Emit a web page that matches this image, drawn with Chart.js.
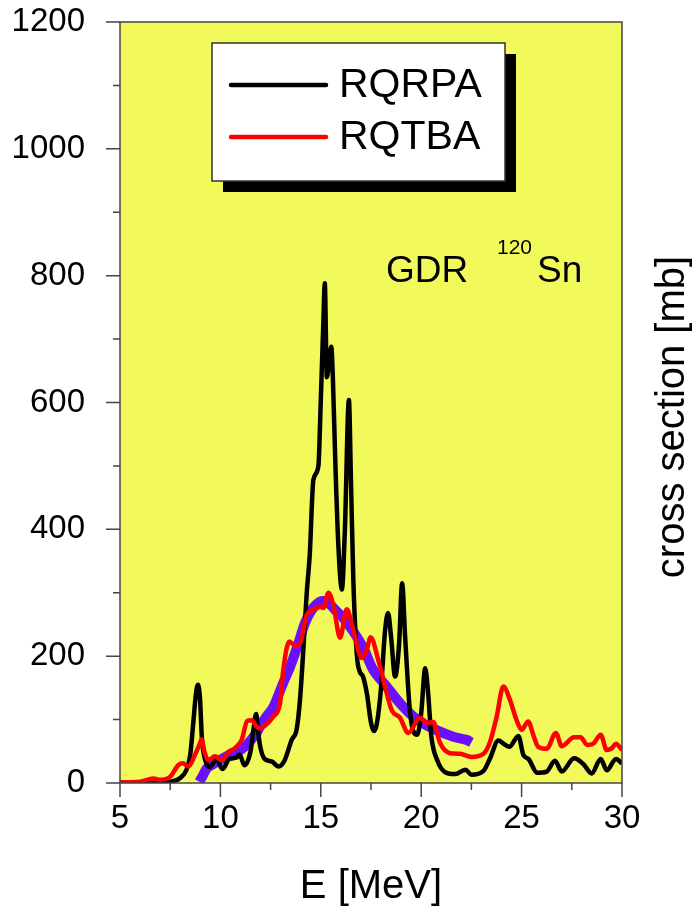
<!DOCTYPE html>
<html>
<head>
<meta charset="utf-8">
<title>GDR 120Sn</title>
<script src="https://cdn.jsdelivr.net/npm/chart.js@4.4.1/dist/chart.umd.min.js"></script>
<style>
  body { margin: 0; background: #fff; }
  #caja { width: 697px; height: 915px; }
</style>
</head>
<body>
<div id="caja"><canvas id="grafico" width="697" height="915"></canvas></div>
<script>
// RQRPA (negro)
const energiaRqrpa = [5.0, 6.0, 7.0, 7.5, 8.0, 8.3, 8.5, 8.65, 8.78, 8.88, 8.98, 9.08, 9.23, 9.48, 9.8, 10.1, 10.45, 10.8, 10.95, 11.2, 11.5, 11.65, 11.78, 11.9, 12.0, 12.2, 12.55, 12.9, 13.2, 13.55, 13.8, 13.96, 14.13, 14.3, 14.45, 14.63, 14.88, 15.0, 15.12, 15.2, 15.3, 15.4, 15.52, 15.6, 15.72, 15.87, 16.05, 16.2, 16.4, 16.5, 16.62, 16.8, 16.95, 17.1, 17.3, 17.5, 17.65, 17.8, 18.0, 18.2, 18.35, 18.5, 18.7, 18.9, 19.05, 19.2, 19.45, 19.8, 20.0, 20.2, 20.35, 20.5, 20.8, 21.2, 21.7, 22.2, 22.5, 23.1, 23.43, 23.84, 24.1, 24.39, 24.84, 25.09, 25.34, 25.78, 26.25, 26.66, 27.0, 27.61, 28.07, 28.49, 28.94, 29.24, 29.7, 30.0]
const seccionRqrpa = [0, 0, 0.5, 2, 8, 20, 45, 95, 140, 155, 135, 70, 38, 25, 38, 22, 38, 40, 45, 28, 50, 85, 109, 75, 55, 38, 34, 26, 36, 68, 85, 130, 210, 300, 360, 478, 500, 604, 720, 788, 640, 660, 688, 640, 509, 378, 305, 400, 604, 480, 320, 200, 175, 168, 140, 95, 82, 95, 150, 240, 268, 230, 168, 220, 315, 230, 110, 76, 110, 181, 140, 75, 36, 17, 14, 21, 13, 19, 39, 67, 62, 57, 74, 44, 38, 16, 18, 35, 18, 39, 30, 15, 38, 20, 38, 31]

// RQTBA (rojo)
const energiaRqtba = [5.0, 6.0, 6.66, 7.0, 7.5, 7.9, 8.13, 8.4, 8.73, 8.95, 9.07, 9.2, 9.4, 9.73, 10.06, 10.4, 10.73, 11.06, 11.34, 11.56, 11.8, 11.97, 12.2, 12.64, 12.97, 13.13, 13.43, 13.72, 13.96, 14.3, 14.63, 14.96, 15.13, 15.38, 15.63, 15.96, 16.29, 16.62, 17.04, 17.29, 17.48, 17.86, 18.2, 18.53, 18.94, 19.36, 19.94, 20.27, 20.6, 20.94, 21.43, 21.93, 22.5, 23.1, 23.43, 23.76, 24.09, 24.42, 24.75, 25.0, 25.33, 25.58, 25.83, 26.25, 26.71, 27.0, 27.61, 27.94, 28.27, 28.57, 28.94, 29.24, 29.5, 29.7, 30.0]
const seccionRqtba = [1, 2, 7, 5, 10, 28, 31, 26, 44, 60, 69, 50, 36, 42, 36, 49, 55, 68, 98, 99, 89, 86, 90, 105, 126, 178, 223, 217, 220, 265, 273, 278, 276, 300, 280, 229, 274, 241, 197, 210, 230, 194, 152, 115, 103, 79, 103, 95, 96, 63, 47, 46, 41, 46, 65, 105, 152, 131, 99, 84, 97, 76, 57, 54, 79, 58, 72, 72, 60, 62, 76, 52, 55, 62, 52]

// datos experimentales (banda violeta)
const energiaExp = [8.95, 9.1, 9.32, 9.65, 9.98, 10.3, 10.64, 11.0, 11.31, 11.8, 11.97, 12.3, 12.64, 13.13, 13.47, 13.88, 14.21, 14.55, 14.96, 15.3, 15.71, 16.12, 16.62, 17.12, 17.62, 18.28, 18.94, 19.6, 20.27, 20.94, 21.6, 22.26, 22.5]
const seccionExp = [2, 10, 23, 30, 36, 42, 47, 52, 60, 79, 89, 105, 120, 158, 183, 220, 252, 273, 286, 286, 273, 260, 239, 213, 178, 152, 126, 105, 91, 81, 73, 68, 64]

const ticksX = [5, 10, 15, 20, 25, 30]
const ticksY = [0, 200, 400, 600, 800, 1000, 1200]

const FONDO = '#f1f95b'
const EJE = '#444'
const FUENTE = "'Liberation Sans', Arial, sans-serif"

const puntos = (xs, ys) => xs.map((x, i) => ({ x: x, y: ys[i] }))

// fondo amarillo, marco, marcas, leyenda y rotulos
const marcoPlugin = {
    id: 'marco',
    beforeDraw(chart) {
        const { ctx, chartArea: a } = chart
        ctx.save()
        ctx.fillStyle = FONDO
        ctx.fillRect(a.left, a.top, a.right - a.left, a.bottom - a.top)
        ctx.restore()
    },
    afterDraw(chart) {
        const { ctx, chartArea: a, scales } = chart
        ctx.save()
        ctx.strokeStyle = EJE
        ctx.lineWidth = 1.5
        ctx.strokeRect(a.left, a.top, a.right - a.left, a.bottom - a.top)

        ctx.beginPath()
        scales.x.ticks.forEach(t => {
            const px = scales.x.getPixelForValue(t.value)
            const largo = ticksX.includes(t.value) ? 14 : 7
            ctx.moveTo(px, a.bottom)
            ctx.lineTo(px, a.bottom + largo)
        })
        scales.y.ticks.forEach(t => {
            const py = scales.y.getPixelForValue(t.value)
            const largo = ticksY.includes(t.value) ? 14 : 7
            ctx.moveTo(a.left, py)
            ctx.lineTo(a.left - largo, py)
        })
        ctx.stroke()

        // leyenda con sombra
        const lx = 212, ly = 43, lw = 293, lh = 138
        ctx.fillStyle = '#000'
        ctx.fillRect(lx + 11, ly + 11, lw, lh)
        ctx.fillStyle = '#fff'
        ctx.fillRect(lx, ly, lw, lh)
        ctx.strokeStyle = '#333'
        ctx.lineWidth = 1.5
        ctx.strokeRect(lx, ly, lw, lh)

        const series = chart.data.datasets.filter(d => d.label !== 'exp')
        ctx.font = '41px ' + FUENTE
        ctx.textBaseline = 'middle'
        ctx.textAlign = 'left'
        series.forEach((d, i) => {
            const y = 85 + i * 52
            ctx.strokeStyle = d.borderColor
            ctx.lineWidth = 4.5
            ctx.lineCap = 'round'
            ctx.beginPath()
            ctx.moveTo(231, y)
            ctx.lineTo(326, y)
            ctx.stroke()
            ctx.fillStyle = '#000'
            ctx.fillText(d.label, 339, y + 1)
        })

        // GDR 120Sn
        ctx.textBaseline = 'alphabetic'
        ctx.fillStyle = '#000'
        ctx.font = '37px ' + FUENTE
        ctx.fillText('GDR', 386, 282)
        ctx.font = '21px ' + FUENTE
        ctx.fillText('120', 497, 254)
        ctx.font = '37px ' + FUENTE
        ctx.fillText('Sn', 537, 282)

        // titulo del eje y a la derecha
        ctx.translate(673, 417)
        ctx.rotate(-Math.PI / 2)
        ctx.textAlign = 'center'
        ctx.textBaseline = 'middle'
        ctx.font = '40px ' + FUENTE
        ctx.fillText('cross section [mb]', 0, 0)
        ctx.restore()
    }
}

const config = {
    type: 'line',
    data: {
        datasets: [
            {
                label: 'RQRPA',
                data: puntos(energiaRqrpa, seccionRqrpa),
                borderColor: '#000000',
                borderWidth: 4.5,
                pointRadius: 0,
                cubicInterpolationMode: 'monotone',
                order: 1
            },
            {
                label: 'RQTBA',
                data: puntos(energiaRqtba, seccionRqtba),
                borderColor: '#ff0000',
                borderWidth: 4.5,
                pointRadius: 0,
                cubicInterpolationMode: 'monotone',
                order: 0
            },
            {
                label: 'exp',
                data: puntos(energiaExp, seccionExp),
                borderColor: '#6a10ff',
                borderWidth: 10,
                pointRadius: 0,
                tension: 0.3,
                order: 2
            }
        ]
    },
    options: {
        responsive: false,
        animation: false,
        layout: { padding: { top: 22, right: 75, left: 0, bottom: 0 } },
        plugins: {
            legend: { display: false },
            tooltip: { enabled: false }
        },
        scales: {
            x: {
                type: 'linear',
                min: 5,
                max: 30,
                grid: { display: false },
                border: { display: false },
                ticks: {
                    stepSize: 2.5,
                    autoSkip: false,
                    maxRotation: 0,
                    padding: 8,
                    color: '#000',
                    font: { family: FUENTE, size: 33 },
                    callback: v => ticksX.includes(v) ? String(v) : ''
                },
                title: {
                    display: true,
                    text: 'E [MeV]',
                    color: '#000',
                    font: { family: FUENTE, size: 40 },
                    padding: { top: 0, bottom: 4 }
                },
                afterFit: s => {
                    s.height = 132
                    s.paddingLeft = 0
                    s.paddingRight = 0
                }
            },
            y: {
                min: 0,
                max: 1200,
                grid: { display: false },
                border: { display: false },
                ticks: {
                    stepSize: 100,
                    autoSkip: false,
                    padding: 27,
                    color: '#000',
                    font: { family: FUENTE, size: 33 },
                    callback: v => ticksY.includes(v) ? String(v) : ''
                },
                afterFit: s => {
                    s.width = 120
                    s.paddingTop = 0
                    s.paddingBottom = 0
                }
            }
        }
    },
    plugins: [marcoPlugin]
}

const grafico = new Chart(document.getElementById('grafico'), config)
</script>
</body>
</html>
